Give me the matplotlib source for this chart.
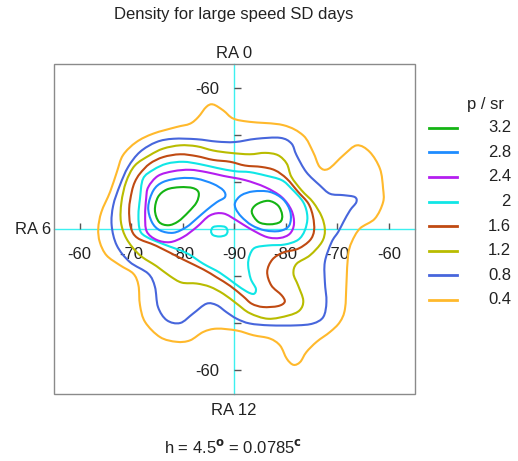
import numpy as np
import matplotlib
matplotlib.use('Agg')
import matplotlib.pyplot as plt
from matplotlib.path import Path
from matplotlib.patches import PathPatch, Rectangle

plt.rcParams['font.family'] = ['Liberation Sans', 'DejaVu Sans']
plt.rcParams['mathtext.fontset'] = 'custom'
plt.rcParams['mathtext.rm'] = 'Liberation Sans'

# contour levels (p / sr) and their colours, legend order
levels = ['3.2', '2.8', '2.4', '2', '1.6', '1.2', '0.8', '0.4']
colors = ['#14B414', '#1E8CFF', '#B41EF0', '#10E6E6', '#C04A12', '#B9BC00', '#4766DC', '#FFB92C']

# contour rings, degrees from the pole
# x: towards RA 18 (right) / RA 6 (left), y: towards RA 0 (up) / RA 12 (down)
ring_04 = [(-4.1, 26.5), (-2.1, 25.2), (-0.2, 23.5), (3.0, 22.8), (9.5, 22.1), (13.4, 19.9),
           (15.3, 16.4), (16.6, 13.2), (18.3, 12.8), (21.2, 15.7), (23.8, 17.8), (26.3, 16.4),
           (28.3, 12.8), (28.9, 8.6), (28.9, 5.7), (27.3, 2.2), (24.4, 0.1), (22.8, -2.8),
           (22.1, -5.6), (21.8, -11.3), (21.5, -17.0), (20.5, -19.8), (18.6, -21.9), (16.0, -24.0),
           (14.0, -26.2), (12.8, -28.3), (11.5, -28.9), (10.2, -27.6), (8.9, -24.8), (6.9, -23.3),
           (3.7, -22.6), (0.5, -21.6), (-3.4, -21.2), (-6.0, -21.9), (-8.6, -23.7), (-11.2, -24.0),
           (-14.4, -23.0), (-17.3, -19.8), (-18.3, -16.2), (-18.6, -12.0), (-19.6, -9.5),
           (-22.2, -7.7), (-24.8, -5.6), (-26.1, -2.8), (-26.4, 0.1), (-25.8, 3.6), (-24.1, 7.9),
           (-22.8, 12.1), (-21.6, 15.7), (-19.0, 18.5), (-15.7, 20.3), (-11.2, 21.7), (-8.6, 22.4),
           (-7.0, 23.8), (-5.4, 26.0)]
ring_08 = [(-15.1, 18.5), (-11.8, 19.2), (-7.3, 19.1), (-3.4, 18.6), (0.1, 18.5), (4.3, 19.2),
           (8.9, 19.4), (11.1, 18.2), (12.1, 15.7), (14.0, 12.1), (16.6, 9.3), (18.6, 7.5),
           (21.2, 7.2), (23.4, 6.8), (23.7, 5.7), (22.5, 4.0), (21.2, 1.5), (20.2, -0.6),
           (18.9, -2.8), (17.6, -7.0), (17.6, -11.3), (17.9, -15.5), (17.3, -18.7), (15.3, -20.1),
           (12.1, -20.5), (6.9, -20.5), (3.0, -20.1), (0.5, -19.1), (-1.5, -17.7), (-3.4, -16.2),
           (-5.4, -15.9), (-8.0, -18.0), (-10.5, -20.0), (-13.1, -19.4), (-14.8, -16.6),
           (-15.4, -12.3), (-16.7, -9.5), (-20.3, -7.0), (-22.8, -3.5), (-23.8, 0.8), (-23.5, 5.0),
           (-22.2, 9.3), (-20.6, 13.2), (-18.3, 16.4)]
ring_12 = [(-16.4, 15.7), (-13.8, 17.1), (-10.5, 17.8), (-7.3, 17.6), (-4.1, 16.7), (-0.8, 16.2),
           (3.0, 15.9), (6.0, 16.2), (8.5, 15.7), (10.2, 13.9), (11.1, 11.1), (13.1, 8.2),
           (15.3, 5.7), (17.0, 2.6), (17.6, -0.3), (17.0, -2.8), (14.7, -5.6), (12.1, -7.4),
           (11.5, -9.5), (12.4, -12.0), (13.4, -15.2), (12.7, -17.3), (10.5, -18.4), (6.6, -19.1),
           (3.0, -17.9), (0.5, -15.9), (-2.1, -13.8), (-4.7, -12.3), (-7.3, -11.6), (-10.2, -11.4),
           (-12.5, -10.0), (-15.1, -7.9), (-18.4, -5.5), (-20.9, -2.1), (-22.0, 1.5), (-21.9, 5.7),
           (-21.0, 10.0), (-19.3, 13.5)]
ring_16 = [(-18.3, 11.8), (-16.4, 13.9), (-13.8, 15.3), (-10.5, 15.9), (-7.3, 15.5), (-4.1, 14.7),
           (-0.8, 14.3), (2.1, 13.5), (5.3, 13.2), (7.9, 12.5), (10.2, 10.7), (12.4, 7.9),
           (14.4, 5.4), (15.3, 2.6), (15.5, -0.3), (14.7, -2.4), (12.4, -4.2), (9.5, -5.0),
           (7.4, -6.5), (6.4, -9.1), (7.2, -12.0), (9.2, -14.1), (9.8, -15.5), (8.5, -16.4),
           (5.6, -16.6), (3.4, -15.9), (1.7, -14.3), (-0.8, -12.1), (-3.4, -10.3), (-6.0, -8.6),
           (-9.9, -6.5), (-15.1, -3.6), (-18.8, -1.9), (-20.1, 0.4), (-20.4, 4.3), (-19.9, 7.9),
           (-19.3, 10.0)]
ring_20 = [(-17.7, 10.7), (-15.7, 12.6), (-13.1, 13.9), (-9.9, 14.3), (-6.7, 13.8), (-3.4, 13.0),
           (0.1, 12.3), (3.0, 12.1), (6.0, 11.4), (9.2, 10.4), (11.1, 8.6), (13.4, 5.7),
           (14.2, 2.6), (13.7, -0.3), (12.4, -2.3), (9.8, -3.3), (6.6, -3.5), (4.0, -4.0),
           (3.0, -5.6), (2.7, -7.7), (3.2, -10.6), (4.2, -12.7), (3.8, -13.8), (2.4, -13.3),
           (0.1, -11.6), (-2.8, -9.3), (-6.0, -7.4), (-9.3, -5.1), (-13.8, -3.2), (-17.0, -1.7),
           (-18.3, -0.3), (-18.6, 2.9), (-18.3, 6.5)]
ring_20b = [(-4.5, -0.5), (-4.1, 0.4), (-2.9, 0.6), (-1.7, 0.4), (-1.3, -0.5), (-1.7, -1.3),
            (-2.9, -1.6), (-4.1, -1.3)]
ring_24 = [(-16.7, 8.9), (-14.8, 11.3), (-11.8, 12.3), (-8.6, 12.6), (-5.4, 12.1), (-2.1, 11.3),
           (2.1, 10.4), (6.0, 8.9), (9.2, 6.8), (11.1, 4.0), (11.6, 1.1), (10.8, -1.0),
           (8.9, -1.9), (6.3, -1.7), (3.0, 0.1), (0.5, 1.8), (-2.1, 3.3), (-4.7, 2.9),
           (-7.3, 0.4), (-9.9, -1.7), (-12.5, -2.8), (-15.1, -2.3), (-17.0, -0.5), (-17.3, 2.9),
           (-17.1, 6.5)]
ring_28a = [(-16.7, 4.7), (-15.7, 8.2), (-13.8, 10.0), (-10.5, 10.8), (-7.3, 10.7), (-4.1, 9.6),
            (-2.1, 8.2), (-1.8, 6.8), (-3.4, 5.7), (-5.4, 4.0), (-7.3, 2.2), (-9.3, 0.4),
            (-11.8, -0.8), (-14.4, -0.3), (-16.0, 1.5)]
ring_28b = [(0.2, 5.7), (1.4, 7.2), (3.7, 8.0), (6.9, 7.9), (9.5, 6.3), (10.9, 3.6), (10.7, 0.8),
            (8.9, -0.4), (6.0, -0.3), (3.4, 0.8), (1.4, 2.6), (0.3, 4.3)]
ring_32a = [(-15.4, 4.0), (-14.8, 6.8), (-13.1, 8.4), (-10.5, 8.9), (-8.0, 8.7), (-6.9, 7.7),
            (-7.3, 5.7), (-8.9, 3.6), (-10.9, 1.6), (-12.8, 0.8), (-14.6, 1.5)]
ring_32b = [(3.4, 3.6), (4.3, 5.2), (6.6, 6.0), (8.5, 5.0), (9.3, 3.0), (8.9, 1.5), (6.9, 1.0),
            (4.7, 1.5)]

rings = {'0.4': [ring_04], '0.8': [ring_08], '1.2': [ring_12], '1.6': [ring_16],
         '2': [ring_20, ring_20b], '2.4': [ring_24], '2.8': [ring_28a, ring_28b],
         '3.2': [ring_32a, ring_32b]}

xticks = [-30, -20, -10, 0, 10, 20, 30]
xticklabels = ['-60', '-70', '-80', '-90', '-80', '-70', '-60']
yticks = [-30, -20, -10, 10, 20, 30]
yticklabels = ['-60', '', '', '', '', '-60']


def closed_curve(pts):
    # smooth closed curve through the traced points (Catmull-Rom as cubic Bezier)
    p = np.array(pts, dtype=float)
    n = len(p)
    verts = [p[0]]
    codes = [Path.MOVETO]
    for i in range(n):
        p0, p1, p2, p3 = p[i - 1], p[i], p[(i + 1) % n], p[(i + 2) % n]
        verts += [p1 + (p2 - p0) / 6, p2 - (p3 - p1) / 6, p2]
        codes += [Path.CURVE4] * 3
    return Path(verts, codes)


fig = plt.figure(figsize=(5.18, 4.61), dpi=100)
ax = fig.add_axes([0.1042, 0.1464, 0.696, 0.7137])
ax.set_xlim(-35, 35)
ax.set_ylim(-35, 35)

cross = '#3CF0F0'
ax.spines['bottom'].set_position(('data', 0))
ax.spines['left'].set_position(('data', 0))
for s in ['bottom', 'left']:
    ax.spines[s].set_color(cross)
    ax.spines[s].set_linewidth(1.0)
    ax.spines[s].set_zorder(1)
for s in ['top', 'right']:
    ax.spines[s].set_visible(False)
ax.add_patch(Rectangle((0, 0), 1, 1, transform=ax.transAxes, fill=False,
                       ec='#8a8a8a', lw=1.0, clip_on=False, zorder=5))

ax.set_xticks(xticks)
ax.set_xticklabels(xticklabels)
ax.set_yticks(yticks)
ax.set_yticklabels(yticklabels)
ax.tick_params(axis='x', direction='in', length=4, width=1, color='#555555',
               pad=13, labelsize=12, labelcolor='#222222')
ax.tick_params(axis='y', direction='in', length=5, width=1, color='#555555',
               pad=11, labelsize=12, labelcolor='#222222')

for lev, col in zip(levels[::-1], colors[::-1]):
    for ring in rings[lev]:
        ax.add_patch(PathPatch(closed_curve(ring), fill=False, ec=col, lw=1.5, zorder=3))

# legend
lax = fig.add_axes([420 / 518, (461 - 312) / 461, 98 / 518, 222 / 461])
lax.set_xlim(420, 518)
lax.set_ylim(312, 90)
lax.axis('off')
lax.text(486, 104, 'p / sr', ha='center', va='center', fontsize=12, color='#222222')
for i, (lev, col) in enumerate(zip(levels, colors)):
    yy = 127.7 + i * 24.6
    lax.plot([429, 457], [yy, yy], color=col, lw=2)
    lax.text(511, yy, lev, ha='right', va='center', fontsize=12, color='#222222')

fig.text(0.4517, 1 - 14 / 461, 'Density for large speed SD days', ha='center', va='center',
         fontsize=12, color='#222222')
fig.text(0.4517, 1 - 54 / 461, 'RA 0', ha='center', va='center', fontsize=12, color='#222222')
fig.text(0.4517, 1 - 410 / 461, 'RA 12', ha='center', va='center', fontsize=12, color='#222222')
fig.text(33 / 518, 1 - 229 / 461, 'RA 6', ha='center', va='center', fontsize=12, color='#222222')
fig.text(233 / 518, 1 - 447 / 461, r'h = 4.5$^{\mathbf{o}}$ = 0.0785$^{\mathbf{c}}$',
         ha='center', va='center', fontsize=12, color='#222222')

fig.savefig('out.png', dpi=100)
